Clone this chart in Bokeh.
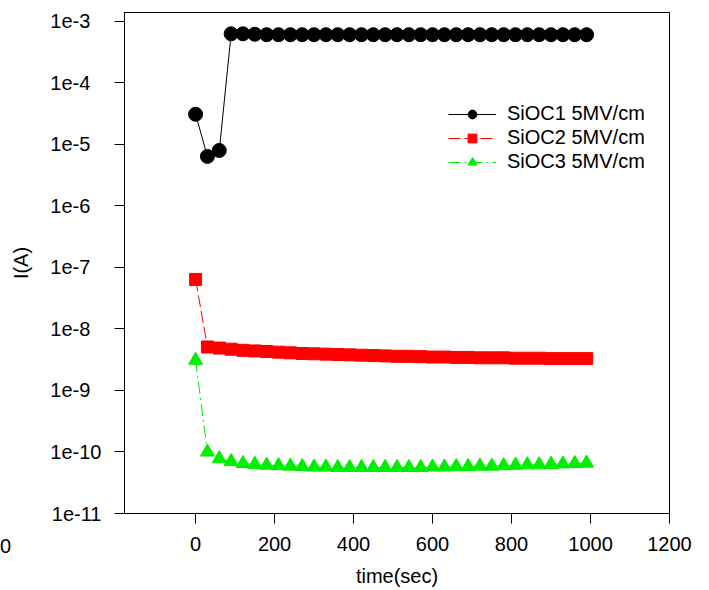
from bokeh.plotting import figure
from bokeh.models import FixedTicker, CustomJSTickFormatter, Range1d, Legend, LegendItem, Label
from bokeh.embed import file_html
from bokeh.resources import INLINE

time_sec = [0, 30, 60, 90, 120, 150, 180, 210, 240, 270, 300, 330, 360, 390, 420, 450, 480,
            510, 540, 570, 600, 630, 660, 690, 720, 750, 780, 810, 840, 870, 900, 930, 960, 990]
sioc1 = [3.1e-5, 6.4e-6, 8.0e-6, 6.3e-4, 6.3e-4, 6.2e-4, 6.1e-4, 6.1e-4, 6.1e-4, 6.1e-4, 6.1e-4,
         6.1e-4, 6.1e-4, 6.1e-4, 6.1e-4, 6.1e-4, 6.1e-4, 6.1e-4, 6.1e-4, 6.1e-4, 6.1e-4, 6.1e-4,
         6.1e-4, 6.1e-4, 6.1e-4, 6.1e-4, 6.1e-4, 6.1e-4, 6.1e-4, 6.1e-4, 6.1e-4, 6.1e-4, 6.1e-4, 6.1e-4]
sioc2 = [6.4e-8, 5.1e-9, 4.9e-9, 4.7e-9, 4.5e-9, 4.4e-9, 4.3e-9, 4.2e-9, 4.1e-9, 4.0e-9, 3.95e-9,
         3.9e-9, 3.85e-9, 3.8e-9, 3.75e-9, 3.7e-9, 3.65e-9, 3.6e-9, 3.6e-9, 3.55e-9, 3.5e-9, 3.5e-9,
         3.45e-9, 3.45e-9, 3.4e-9, 3.4e-9, 3.4e-9, 3.35e-9, 3.35e-9, 3.35e-9, 3.3e-9, 3.3e-9, 3.3e-9, 3.3e-9]
sioc3 = [3.1e-9, 1.0e-10, 7.8e-11, 7.0e-11, 6.5e-11, 6.3e-11, 6.1e-11, 6.0e-11, 5.9e-11, 5.8e-11,
         5.7e-11, 5.7e-11, 5.6e-11, 5.6e-11, 5.6e-11, 5.6e-11, 5.6e-11, 5.6e-11, 5.6e-11, 5.6e-11,
         5.7e-11, 5.7e-11, 5.8e-11, 5.8e-11, 5.9e-11, 5.9e-11, 6.0e-11, 6.1e-11, 6.2e-11, 6.2e-11,
         6.3e-11, 6.4e-11, 6.5e-11, 6.6e-11]
labels = ["SiOC1 5MV/cm", "SiOC2 5MV/cm", "SiOC3 5MV/cm"]
x_ticks = [0, 200, 400, 600, 800, 1000, 1200]
y_ticks = [1e-11, 1e-10, 1e-9, 1e-8, 1e-7, 1e-6, 1e-5, 1e-4, 1e-3]

FONT = "Liberation Sans"
FS = "20px"

p = figure(width=709, height=590, output_backend="svg", toolbar_location=None,
           y_axis_type="log",
           x_range=Range1d(-180, 1200), y_range=Range1d(1e-11, 1.4e-3),
           min_border_left=124, min_border_right=40, min_border_top=12, min_border_bottom=77)
p.background_fill_color = "white"
p.border_fill_color = "white"
p.outline_line_color = "black"
p.outline_line_width = 1
p.xgrid.visible = False
p.ygrid.visible = False

r1l = p.line(time_sec, sioc1, line_color="black", line_width=1)
r1m = p.scatter(time_sec, sioc1, marker="circle", size=14, fill_color="black", line_color="black")
r2l = p.line(time_sec, sioc2, line_color="red", line_width=1, line_dash="12 4")
r2m = p.scatter(time_sec, sioc2, marker="square", size=12, fill_color="red", line_color="red")
r3l = p.line(time_sec, sioc3, line_color="#00ee00", line_width=1, line_dash="12 4 2 4")
r3m = p.scatter(time_sec, sioc3, marker="triangle", size=14, fill_color="#00ee00", line_color="#00ee00")

legend = Legend(items=[LegendItem(label=labels[0], renderers=[r1l, r1m]),
                       LegendItem(label=labels[1], renderers=[r2l, r2m]),
                       LegendItem(label=labels[2], renderers=[r3l, r3m])],
                location=(324, 340))
legend.border_line_color = None
legend.background_fill_alpha = 0
legend.label_text_font = FONT
legend.label_text_font_size = "20px"
legend.label_text_color = "black"
legend.glyph_width = 48
legend.glyph_height = 22
legend.label_height = 22
legend.spacing = 1
legend.padding = 0
legend.margin = 0
legend.label_standoff = 11
p.add_layout(legend, "center")

for ax in (p.xaxis[0], p.yaxis[0]):
    ax.axis_line_color = "black"
    ax.major_tick_line_color = "black"
    ax.minor_tick_line_color = None
    ax.major_tick_in = 0
    ax.major_tick_out = 10
    ax.major_label_text_font = FONT
    ax.major_label_text_font_size = FS
    ax.major_label_text_color = "black"
    ax.axis_label_text_font = FONT
    ax.axis_label_text_font_size = FS
    ax.axis_label_text_font_style = "normal"
    ax.axis_label_text_color = "black"

p.xaxis.ticker = FixedTicker(ticks=x_ticks)
p.yaxis.ticker = FixedTicker(ticks=y_ticks)
# pad one-digit exponents with a figure space so that the labels line up on the left
p.yaxis.formatter = CustomJSTickFormatter(
    code='const e = Math.round(Math.log10(tick)); const s = "1e" + e; '
         'return (Math.abs(e) < 10) ? s + "\\u2007" : s;')
p.xaxis.axis_label = "time(sec)"
p.yaxis.axis_label = "I(A)"
p.xaxis.major_label_standoff = 13
p.yaxis.major_label_standoff = 13
p.xaxis.axis_label_standoff = 11
p.yaxis.axis_label_standoff = 15

stray = Label(x=5, y=545, x_units="canvas", y_units="canvas", text="0",
              text_font=FONT, text_font_size=FS,
              text_color="black", text_align="center", text_baseline="middle")
p.add_layout(stray, "right")

open("out.html", "w").write(file_html(p, INLINE))
